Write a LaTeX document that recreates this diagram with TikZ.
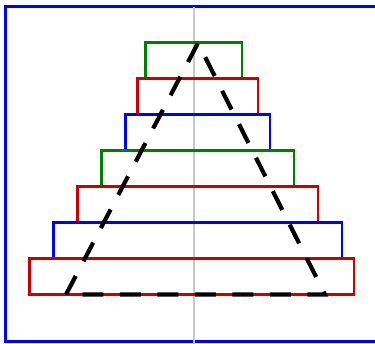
\documentclass[tikz,border=0pt]{standalone}
\begin{document}
\begin{tikzpicture}[x=1pt,y=-1pt,
  layer/.style={line width=2.4pt},
  tri/.style={line width=4.2pt,dash pattern=on 21pt off 16.5pt,black}]
\definecolor{pgreen}{RGB}{0,128,0}
\definecolor{pred}{RGB}{204,0,0}
\definecolor{pblue}{RGB}{0,0,255}
\definecolor{pgray}{RGB}{200,200,200}
\useasboundingbox (0,0) rectangle (375,343);
\clip (0,0) rectangle (375,343);
\draw[pblue,line width=2.4pt] (5.5,6.5) rectangle (390,341.5);
\draw[pgray,line width=2.2pt] (194,6.5) -- (194,345);
\draw[layer,pgreen] (145.5,42.5) rectangle (242,78.5);
\draw[layer,pred]   (137.5,78.5) rectangle (258,114.5);
\draw[layer,pblue]  (125.5,114.5) rectangle (270,150.5);
\draw[layer,pgreen] (101.5,150.5) rectangle (294,186.5);
\draw[layer,pred]   (77.5,186.5) rectangle (318,222.5);
\draw[layer,pblue]  (53.5,222.5) rectangle (342,258.5);
\draw[layer,pred]   (29.5,258.5) rectangle (354,294.5);
\draw[tri] (66,294.5) -- (198,43) -- (325,294.5) -- cycle;
\end{tikzpicture}
\end{document}
